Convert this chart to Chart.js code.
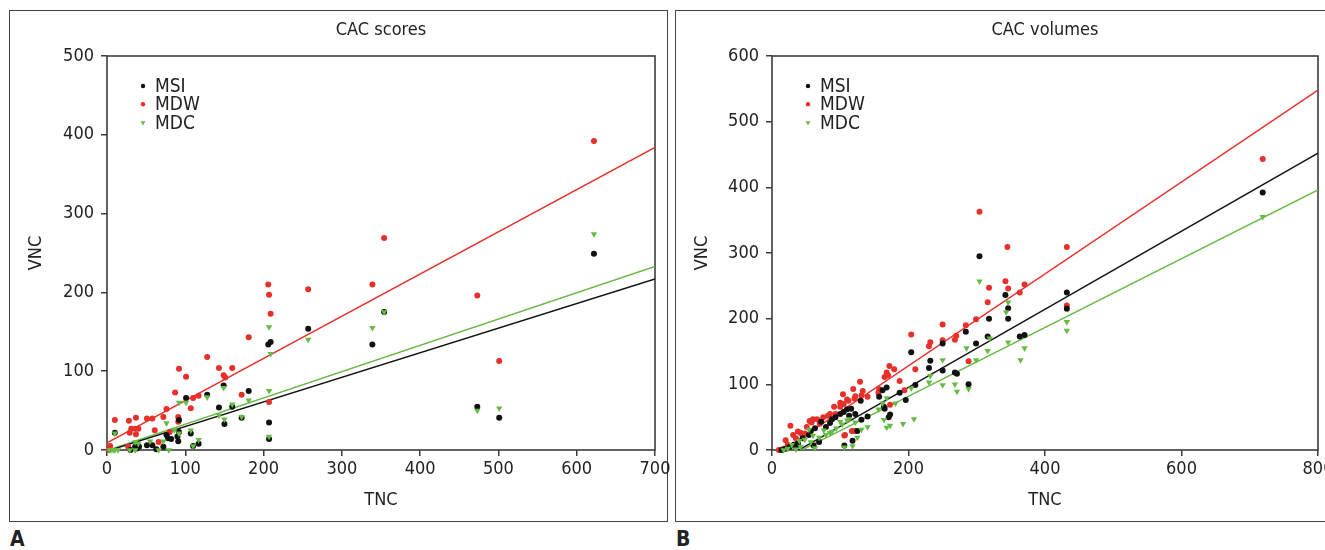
<!DOCTYPE html>
<html>
<head>
<meta charset="utf-8">
<script src="https://cdn.jsdelivr.net/npm/chart.js@4.4.1/dist/chart.umd.min.js"></script>
<style>
body{margin:0;width:1325px;height:550px;overflow:hidden;background:#fff;position:relative;font-family:"DejaVu Sans Condensed","DejaVu Sans",sans-serif;}
.box{position:absolute;border:1px solid #444;box-sizing:border-box;}
#boxA{left:9px;top:10px;width:659px;height:512px;}
#boxB{left:675px;top:10px;width:700px;height:512px;}
canvas{position:absolute;}
#cA{left:10px;top:11px;}
#cB{left:676px;top:11px;}
.lab{position:absolute;top:529px;font-weight:bold;font-size:21px;line-height:20px;color:#222;}
</style>
</head>
<body>
<div class="box" id="boxA"></div>
<div class="box" id="boxB"></div>
<canvas id="cA" width="680" height="509"></canvas>
<canvas id="cB" width="690" height="509"></canvas>
<div class="lab" style="left:10px">A</div>
<div class="lab" style="left:676px">B</div>
<script>
// ---- panel A: CAC scores ----
const scoreTicksX = [0, 100, 200, 300, 400, 500, 600, 700];
const scoreTicksY = [0, 100, 200, 300, 400, 500];
const scoreMSI = [[10,22],[30,0],[36,4],[38,2],[41,4],[51,6],[58,6],[63,1],[72,4],[76,19],[78,15],[82,14],[90,17],[92,23],[92,38],[91,11],
  [101,66],[107,21],[110,5],[117,8],[128,70],[143,54],[149,82],[150,33],[160,55],[172,41],[181,75],[206,134],[209,137],[207,35],[207,14],
  [257,154],[339,134],[354,175],[473,55],[501,41],[622,249]];
const scoreMDW = [[2,0],[4,5],[10,38],[27,4],[28,37],[37,41],[31,27],[36,27],[40,27],[29,22],[37,20],[51,40],[58,40],[61,25],[66,10],[72,42],
  [76,52],[80,23],[87,73],[92,103],[91,42],[91,36],[101,93],[107,53],[110,66],[117,69],[128,118],[143,104],[149,95],[151,92],[160,104],
  [172,70],[181,143],[207,61],[206,210],[207,197],[209,173],[257,204],[339,210],[354,269],[473,196],[501,113],[622,392]];
const scoreMDC = [[3,0],[5,0],[8,0],[10,0],[14,0],[10,21],[29,0],[36,0],[36,10],[40,8],[55,11],[66,0],[72,11],[76,34],[79,0],[86,25],
  [92,60],[92,21],[101,60],[107,25],[110,5],[117,13],[128,67],[143,44],[149,79],[150,39],[160,58],[172,42],[181,63],[207,156],[209,122],
  [207,75],[207,17],[257,140],[339,155],[354,175],[473,50],[501,53],[622,274]];
const scoreFitMSI = [[0,-1.4],[700,217]];
const scoreFitMDW = [[0,9],[700,384]];
const scoreFitMDC = [[0,-0.7],[700,233]];

// ---- panel B: CAC volumes ----
const volTicksX = [0, 200, 400, 600, 800];
const volTicksY = [0, 100, 200, 300, 400, 500, 600];
const volMSI = [[719,392],[432,240],[432,215],[304,295],[342,236],[346,216],[346,200],[318,200],[284,180],[299,162],[316,173],[363,173],
  [370,175],[250,162],[232,136],[230,125],[250,121],[268,118],[271,116],[288,100],[204,149],[210,99],[187,87],[196,76],[168,95],[162,91],
  [157,81],[164,66],[165,63],[171,50],[173,54],[140,51],[131,46],[125,29],[118,14],[106,7],[130,75],[122,55],[116,63],[110,62],[100,55],
  [93,50],[85,41],[88,47],[79,35],[72,43],[69,12],[61,7],[63,33],[54,23],[45,18],[38,10],[32,8],[26,5],[20,2],[14,0],[35,5],[57,29],
  [105,58],[113,52]];
const volMDW = [[719,443],[432,309],[432,220],[304,363],[345,309],[342,257],[318,247],[346,246],[316,225],[370,252],[363,240],[299,199],
  [284,190],[250,191],[270,174],[268,168],[250,167],[232,164],[230,158],[204,176],[210,123],[288,135],[187,105],[194,91],[179,123],
  [172,128],[168,118],[170,114],[165,111],[173,69],[157,93],[129,104],[133,90],[119,93],[122,82],[140,81],[104,85],[106,22],[117,29],
  [100,66],[91,66],[93,55],[82,52],[75,50],[66,47],[60,47],[58,42],[51,35],[38,28],[27,37],[31,23],[45,21],[20,15],[23,8],[17,2],[10,0],
  [48,25],[110,77],[131,83],[156,87],[112,75],[121,78],[105,70],[100,72],[35,18],[42,26],[55,44],[70,40],[85,55],[121,29],[107,23]];
const volMDC = [[719,355],[432,195],[432,182],[304,257],[346,225],[343,210],[319,170],[285,155],[316,151],[299,137],[346,164],[364,137],
  [370,155],[250,137],[232,113],[230,103],[250,99],[268,100],[271,89],[288,93],[204,94],[208,47],[192,40],[181,71],[173,37],[168,34],
  [164,46],[168,79],[162,71],[156,62],[140,35],[131,31],[125,19],[118,6],[106,4],[122,42],[113,47],[103,39],[94,33],[85,26],[79,23],
  [69,19],[63,3],[57,12],[48,16],[42,5],[35,1],[29,8],[23,2],[17,0],[54,31],[76,30],[88,28],[110,45],[60,22],[100,43],[40,14]];
const volFitMSI = [[0,-23.4],[800,452]];
const volFitMDW = [[0,-11.7],[800,548]];
const volFitMDC = [[0,-22.9],[800,396]];

const FONT = "'DejaVu Sans Condensed', 'DejaVu Sans', sans-serif";
const INK = '#222';
const AXIS = '#3c3c3c';
const BLACK = '#111', RED = '#e8302a', GREEN = '#66bb45';

Chart.defaults.font.family = FONT;
Chart.defaults.font.size = 18;
Chart.defaults.color = INK;

function mark(ctx, style, x, y, r, color) {
  ctx.fillStyle = color;
  ctx.beginPath();
  if (style === 'triangle') {
    ctx.moveTo(x - r * 0.87, y - r * 0.5);
    ctx.lineTo(x + r * 0.87, y - r * 0.5);
    ctx.lineTo(x, y + r);
    ctx.closePath();
  } else {
    ctx.arc(x, y, r, 0, Math.PI * 2);
  }
  ctx.fill();
}

// box round the plot area, drawn under the points
const frame = {
  id: 'frame',
  beforeDatasetsDraw(chart) {
    const {ctx, chartArea: a} = chart;
    ctx.save();
    ctx.strokeStyle = AXIS;
    ctx.lineWidth = 1.6;
    ctx.strokeRect(a.left, a.top, a.right - a.left, a.bottom - a.top);
    ctx.restore();
  }
};

// legend inside the plot, top left
const keyBox = {
  id: 'keyBox',
  afterDatasetsDraw(chart) {
    const {ctx, chartArea: a} = chart;
    const sets = chart.data.datasets.filter(d => !d.showLine);
    ctx.save();
    ctx.font = '19px ' + FONT;
    ctx.textBaseline = 'middle';
    sets.forEach((d, i) => {
      const x = a.left + 36, y = a.top + 30 + i * 18.3;
      mark(ctx, d.pointStyle, x, y, d.pointStyle === 'triangle' ? 2.8 : 2.2, d.backgroundColor);
      ctx.fillStyle = INK;
      ctx.fillText(d.label, x + 12, y + 1);
    });
    ctx.restore();
  }
};

function dots(label, data, color, style, order) {
  return {
    label, data, order,
    backgroundColor: color, borderColor: color,
    pointStyle: style,
    pointRotation: style === 'triangle' ? 180 : 0,
    pointRadius: style === 'triangle' ? 3.7 : 3,
    pointBorderWidth: 0,
    clip: false
  };
}

function fit(data, color) {
  return {
    data, showLine: true, order: 5,
    borderColor: color, borderWidth: 1.4,
    pointRadius: 0, fill: false, tension: 0
  };
}

function makeChart(id, title, sets, ticksX, ticksY, axisW, rightPad) {
  new Chart(document.getElementById(id), {
    type: 'scatter',
    data: {datasets: sets},
    options: {
      responsive: false,
      animation: false,
      events: [],
      layout: {padding: {left: 0, right: rightPad, top: 0, bottom: 0}},
      plugins: {
        legend: {display: false},
        tooltip: {enabled: false},
        title: {
          display: true, text: title, fullSize: false, color: INK,
          font: {size: 18, weight: 'normal'},
          padding: {top: 9, bottom: 14.4}
        }
      },
      scales: {
        x: {
          type: 'linear',
          min: ticksX[0], max: ticksX[ticksX.length - 1],
          afterBuildTicks: s => { s.ticks = ticksX.map(v => ({value: v})); },
          afterFit: s => { s.height = 70; },
          grid: {drawOnChartArea: false, drawTicks: true, tickLength: 6, color: AXIS, lineWidth: 1.5},
          border: {display: false},
          ticks: {padding: 3, color: INK, maxRotation: 0, autoSkip: false},
          title: {display: true, text: 'TNC', color: INK, padding: {top: 4, bottom: 8.5}}
        },
        y: {
          type: 'linear',
          min: ticksY[0], max: ticksY[ticksY.length - 1],
          afterBuildTicks: s => { s.ticks = ticksY.map(v => ({value: v})); },
          afterFit: s => { s.width = axisW; },
          grid: {drawOnChartArea: false, drawTicks: true, tickLength: 6, color: AXIS, lineWidth: 1.5},
          border: {display: false},
          ticks: {padding: 7, color: INK, autoSkip: false},
          title: {display: true, text: 'VNC', color: INK, padding: {top: 15.5, bottom: 4}}
        }
      }
    },
    plugins: [frame, keyBox]
  });
}

makeChart('cA', 'CAC scores', [
  dots('MSI', scoreMSI, BLACK, 'circle', 2),
  dots('MDW', scoreMDW, RED, 'circle', 3),
  dots('MDC', scoreMDC, GREEN, 'triangle', 1),
  fit(scoreFitMSI, BLACK),
  fit(scoreFitMDW, RED),
  fit(scoreFitMDC, GREEN)
], scoreTicksX, scoreTicksY, 97, 35);

makeChart('cB', 'CAC volumes', [
  dots('MSI', volMSI, BLACK, 'circle', 2),
  dots('MDW', volMDW, RED, 'circle', 3),
  dots('MDC', volMDC, GREEN, 'triangle', 1),
  fit(volFitMSI, BLACK),
  fit(volFitMDW, RED),
  fit(volFitMDC, GREEN)
], volTicksX, volTicksY, 96, 48);
</script>
</body>
</html>
